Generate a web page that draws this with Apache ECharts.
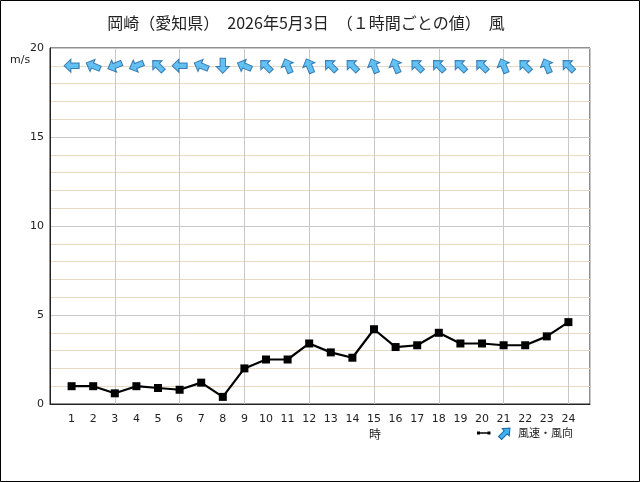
<!DOCTYPE html>
<html>
<head>
<meta charset="utf-8">
<script src="https://cdn.jsdelivr.net/npm/echarts@6/dist/echarts.min.js"></script>
<style>
  html, body { margin: 0; padding: 0; background: #fff; }
  #chart { width: 640px; height: 482px; }
</style>
</head>
<body>
<div id="chart"></div>
<script>
  // 時刻 (1時間ごと)
  const hours = [1, 2, 3, 4, 5, 6, 7, 8, 9, 10, 11, 12, 13, 14, 15, 16, 17, 18, 19, 20, 21, 22, 23, 24]
  // 風速 m/s
  const speeds = [1.0, 1.0, 0.6, 1.0, 0.9, 0.8, 1.2, 0.4, 2.0, 2.5, 2.5, 3.4, 2.9, 2.6, 4.2, 3.2, 3.3, 4.0, 3.4, 3.4, 3.3, 3.3, 3.8, 4.6]
  // 風向 (吹いてくる方位)
  const directions = ['東', '東南東', '東北東', '東北東', '南東', '東', '東南東', '北', '東南東', '南東', '南南東', '南南東',
    '南東', '南東', '南南東', '南南東', '南東', '南東', '南東', '南東', '南南東', '南東', '南南東', '南東']
  const compass = ['北', '北北東', '北東', '東北東', '東', '東南東', '南東', '南南東', '南', '南南西', '南西', '西南西', '西', '西北西', '北西', '北北西']
  const yTicks = [0, 5, 10, 15, 20]

  const arrowPath = 'path://M0,-10 L7.5,-1 L3.2,-1 L3.2,10 L-3.2,10 L-3.2,-1 L-7.5,-1 Z'
  const labelFont = 'DejaVu Sans, sans-serif'

  let chart = echarts.init(document.getElementById('chart'))

  let lineData = hours.map((h, i) => [h, speeds[i]])
  let arrowData = hours.map((h, i) => {
    let from = compass.indexOf(directions[i]) * 22.5
    let toward = from + 180
    return {
      value: [h, 19],
      name: directions[i],
      symbolRotate: -toward
    }
  })

  // 凡例の矢印
  let legendArrow = [[0, -7], [5, -1], [2.2, -1], [2.2, 7], [-2.2, 7], [-2.2, -1], [-5, -1]]

  let option = {
    backgroundColor: '#fff',
    animation: false,
    title: {
      text: '岡崎（愛知県）　2026年5月3日　（１時間ごとの値）　風',
      left: 301,
      textAlign: 'center',
      top: 10,
      textStyle: {
        fontFamily: 'Noto Sans CJK JP',
        fontSize: 16,
        fontWeight: 'normal',
        color: '#222'
      }
    },
    grid: {
      left: 50,
      right: 50,
      top: 48,
      bottom: 78,
      show: true,
      borderColor: '#222',
      borderWidth: 1
    },
    xAxis: [{
      type: 'value',
      min: 0,
      max: 25,
      interval: 1,
      axisLine: { show: true, lineStyle: { color: '#222' } },
      axisTick: { show: false },
      splitLine: { show: false },
      axisLabel: {
        margin: 10,
        fontSize: 11,
        fontFamily: labelFont,
        color: '#222',
        formatter: v => (v >= 1 && v <= 24) ? String(v) : ''
      }
    }, {
      type: 'value',
      min: 0,
      max: 25,
      interval: 3,
      position: 'bottom',
      axisLine: { show: false },
      axisTick: { show: false },
      axisLabel: { show: false },
      splitLine: { show: true, lineStyle: { color: '#c8c8c8', width: 1 } }
    }],
    yAxis: {
      type: 'value',
      min: yTicks[0],
      max: yTicks[yTicks.length - 1],
      interval: 5,
      axisLine: { show: true, lineStyle: { color: '#222' } },
      axisTick: { show: false },
      axisLabel: {
        margin: 6,
        fontSize: 11,
        fontFamily: labelFont,
        color: '#222'
      },
      splitLine: { show: true, lineStyle: { color: '#c8c8c8' } },
      minorTick: { show: false, splitNumber: 5 },
      minorSplitLine: { show: true, lineStyle: { color: '#e6dac4' } }
    },
    series: [{
      name: '風速',
      type: 'line',
      xAxisIndex: 0,
      data: lineData,
      symbol: 'rect',
      symbolSize: 8,
      itemStyle: { color: '#000' },
      lineStyle: { color: '#000', width: 2.2 },
      z: 5
    }, {
      name: '風向',
      type: 'scatter',
      xAxisIndex: 0,
      data: arrowData,
      symbol: arrowPath,
      symbolSize: [13, 15],
      itemStyle: {
        color: '#3cb2f0',
        borderColor: '#1a62a0',
        borderWidth: 1
      },
      z: 6
    }],
    graphic: [{
      type: 'rect',
      shape: { x: 0.5, y: 0.5, width: 639, height: 481 },
      style: { fill: 'none', stroke: '#000', lineWidth: 1 },
      silent: true
    }, {
      type: 'text',
      x: 10,
      y: 55,
      style: { text: 'm/s', fontSize: 11, fontFamily: labelFont, fill: '#222' }
    }, {
      type: 'text',
      x: 369,
      y: 428,
      style: { text: '時', fontSize: 12, fontFamily: 'Noto Sans CJK JP', fill: '#222' }
    }, {
      type: 'line',
      shape: { x1: 478, y1: 433, x2: 489, y2: 433 },
      style: { stroke: '#000', lineWidth: 1.5 }
    }, {
      type: 'rect',
      shape: { x: 477, y: 431.5, width: 3, height: 3 },
      style: { fill: '#000' }
    }, {
      type: 'rect',
      shape: { x: 487.5, y: 431.5, width: 3, height: 3 },
      style: { fill: '#000' }
    }, {
      type: 'polygon',
      shape: { points: legendArrow },
      x: 505, y: 433, rotation: -Math.PI / 4,
      style: { fill: '#3cb2f0', stroke: '#1a62a0', lineWidth: 1 }
    }, {
      type: 'text',
      x: 518, y: 427,
      style: { text: '風速・風向', fontSize: 11, fontFamily: 'Noto Sans CJK JP', fill: '#222' }
    }]
  }

  chart.setOption(option)
</script>
</body>
</html>
